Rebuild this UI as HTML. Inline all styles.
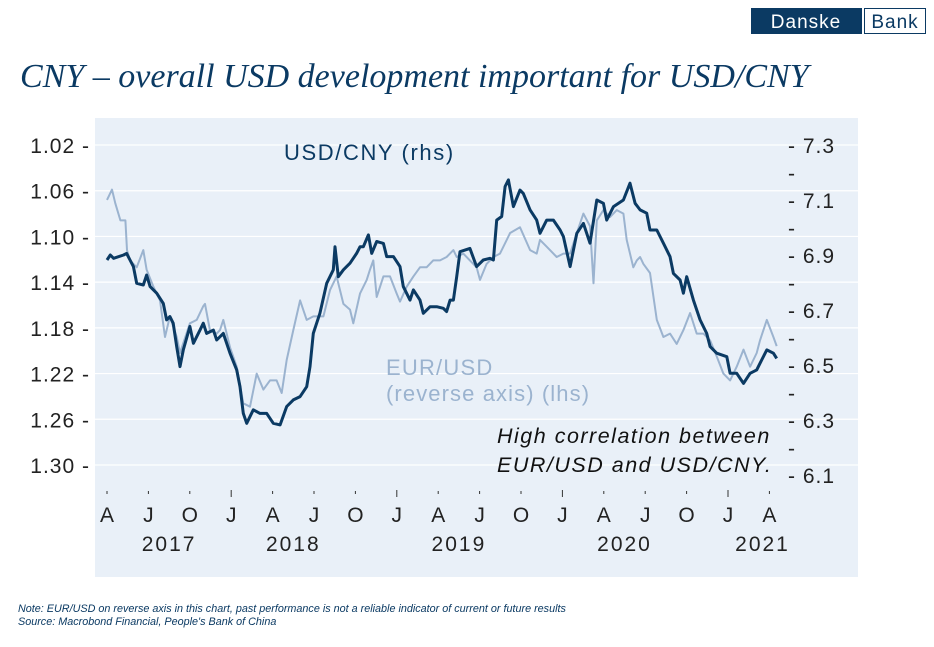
<!DOCTYPE html>
<html><head><meta charset="utf-8"><style>
body{margin:0;width:934px;height:642px;background:#fff;overflow:hidden;font-family:"Liberation Sans",sans-serif}
</style></head><body>
<svg width="934" height="642" xmlns="http://www.w3.org/2000/svg">
<g>
<rect x="751" y="8" width="111" height="26" fill="#0b3a63"/>
<text x="806" y="28" font-size="19" fill="#fff" text-anchor="middle" letter-spacing="1" font-family="Liberation Sans">Danske</text>
<rect x="864.5" y="8.5" width="61" height="25" fill="#fff" stroke="#0b3a63"/>
<text x="895" y="28" font-size="19" fill="#0b3a63" text-anchor="middle" letter-spacing="1" font-family="Liberation Sans">Bank</text>
</g>
<text x="20" y="87" font-family="Liberation Serif" font-style="italic" font-size="34" fill="#0b3a63">CNY – overall USD development important for USD/CNY</text>
<rect x="95" y="118" width="763" height="459" fill="#e9f0f8"/>
<g id="grid"></g><g id="axes"></g><g id="series"></g>
<text x="284" y="160" font-size="22" letter-spacing="1.6" fill="#0b3a63">USD/CNY (rhs)</text>
<text x="386" y="375" font-size="22" letter-spacing="1.2" fill="#9bb3cf">EUR/USD</text>
<text x="386" y="401" font-size="22" letter-spacing="1.1" fill="#9bb3cf">(reverse axis) (lhs)</text>
<text x="497" y="443" font-size="21.5" letter-spacing="1.5" font-style="italic" fill="#111">High correlation between</text>
<text x="497" y="472" font-size="21.5" letter-spacing="1.5" font-style="italic" fill="#111">EUR/USD and USD/CNY.</text>
<text x="18" y="612" font-size="10.8" font-style="italic" fill="#0b3a63">Note: EUR/USD on reverse axis in this chart, past performance is not a reliable indicator of current or future results</text>
<text x="18" y="625" font-size="10.8" font-style="italic" fill="#0b3a63">Source: Macrobond Financial, People's Bank of China</text>
</svg>
<script>
const leftTicks=["1.02","1.06","1.10","1.14","1.18","1.22","1.26","1.30"];
const rightTicks=["7.3","7.1","6.9","6.7","6.5","6.3","6.1"];
const quarterLabels=["A","J","O","J","A","J","O","J","A","J","O","J","A","J","O","J","A"];
const yearLabels=["2017","2018","2019","2020","2021"];
const yearMonths=[4.5,13.5,25.5,37.5,47.5];
const cnyMonths=[0,0.24,0.48,1.2,1.42,1.67,1.91,2.15,2.63,2.87,3.12,3.6,4.08,4.32,4.56,4.8,5.05,5.29,5.53,6.01,6.26,6.74,6.98,7.22,7.71,7.95,8.43,8.91,9.4,9.64,9.88,10.12,10.6,11.09,11.57,12.05,12.54,13.02,13.5,13.99,14.47,14.71,14.95,15.43,15.92,16.4,16.52,16.76,17.13,17.61,18.09,18.33,18.57,18.94,19.18,19.54,20.03,20.27,20.75,21.23,21.47,21.96,22.2,22.68,22.92,23.41,23.89,24.37,24.61,24.86,25.1,25.34,25.58,26.3,26.78,27.27,27.75,28.0,28.24,28.6,28.85,29.09,29.45,29.93,30.17,30.66,31.14,31.38,31.86,32.35,32.83,33.07,33.56,34.04,34.52,35.0,35.49,35.97,36.21,36.7,37.42,37.9,38.27,38.63,39.11,39.35,39.84,40.32,40.8,41.04,41.53,41.77,42.01,42.49,42.98,43.46,43.7,44.18,44.91,45.15,45.63,46.12,46.6,47.08,47.32,47.81,48.29,48.53];
const cnyValues=[6.882,6.900,6.888,6.900,6.906,6.882,6.858,6.797,6.791,6.827,6.785,6.761,6.724,6.664,6.676,6.652,6.567,6.494,6.555,6.640,6.579,6.627,6.652,6.615,6.627,6.591,6.615,6.543,6.482,6.421,6.324,6.288,6.337,6.324,6.324,6.288,6.282,6.349,6.373,6.385,6.421,6.494,6.615,6.688,6.797,6.846,6.930,6.821,6.846,6.870,6.906,6.930,6.930,6.973,6.906,6.949,6.942,6.894,6.894,6.858,6.785,6.736,6.773,6.736,6.688,6.712,6.712,6.706,6.694,6.736,6.736,6.821,6.912,6.924,6.858,6.882,6.888,6.882,7.027,7.040,7.149,7.173,7.076,7.136,7.124,7.064,7.027,6.979,7.027,7.027,6.991,6.967,6.858,6.979,7.015,6.943,7.100,7.088,7.027,7.076,7.100,7.161,7.088,7.064,7.052,6.991,6.991,6.943,6.894,6.833,6.809,6.761,6.821,6.736,6.664,6.615,6.567,6.543,6.530,6.470,6.470,6.433,6.470,6.482,6.506,6.555,6.543,6.524];
const eurMonths=[0,0.36,0.6,0.97,1.33,1.45,1.67,2.15,2.63,2.87,3.36,3.84,4.2,4.56,5.05,5.29,6.01,6.5,6.98,7.1,7.46,7.95,8.19,8.43,8.91,9.4,9.88,10.36,10.85,11.33,11.81,12.29,12.66,13.02,13.5,13.99,14.47,14.95,15.68,16.16,16.64,17.13,17.61,17.85,18.33,18.82,19.06,19.3,19.54,20.03,20.51,20.99,21.23,21.72,22.2,22.68,23.16,23.64,24.13,24.61,25.1,25.34,25.82,26.3,26.78,27.03,27.51,28.0,28.48,29.21,29.93,30.66,31.14,31.38,31.86,32.59,33.07,33.56,34.04,34.52,35.0,35.25,35.49,35.97,36.45,36.94,37.42,37.66,38.14,38.39,38.63,38.87,39.35,39.84,40.32,40.8,41.28,41.77,42.25,42.73,43.22,43.7,44.18,44.67,45.15,45.63,46.12,46.6,47.08,47.32,47.81,48.29,48.53];
const eurValues=[1.068,1.059,1.071,1.086,1.086,1.112,1.121,1.127,1.112,1.129,1.144,1.156,1.188,1.170,1.188,1.202,1.176,1.173,1.161,1.159,1.182,1.185,1.182,1.173,1.197,1.214,1.246,1.249,1.220,1.234,1.226,1.226,1.237,1.208,1.182,1.156,1.173,1.170,1.170,1.147,1.135,1.159,1.164,1.176,1.150,1.138,1.129,1.121,1.153,1.135,1.135,1.150,1.157,1.144,1.135,1.127,1.127,1.121,1.121,1.118,1.112,1.118,1.115,1.121,1.127,1.138,1.124,1.118,1.115,1.097,1.092,1.112,1.115,1.103,1.109,1.118,1.115,1.115,1.097,1.080,1.091,1.141,1.086,1.077,1.083,1.077,1.080,1.103,1.127,1.121,1.118,1.124,1.132,1.173,1.188,1.185,1.194,1.182,1.167,1.185,1.185,1.191,1.205,1.220,1.226,1.214,1.199,1.214,1.202,1.191,1.173,1.188,1.196];

const NS="http://www.w3.org/2000/svg";
const xS=m=>107+m*13.8;
const yL=v=>145+(v-1.02)*(320/0.28);
const yR=v=>145+(7.3-v)*(275/1.0);
function mk(tag,attrs,parent,txt){const e=document.createElementNS(NS,tag);for(const k in attrs)e.setAttribute(k,attrs[k]);if(txt!==undefined)e.textContent=txt;document.getElementById(parent).appendChild(e);return e;}
leftTicks.forEach(t=>{const y=yL(+t);
 let g=mk('line',{x1:95,x2:858,y1:y,y2:y,stroke:'#fff','stroke-width':1.2},'grid');
 
 
 let l=mk('text',{x:90,y:y+8,'font-size':21,fill:'#222','text-anchor':'end','letter-spacing':1},'axes',t+' -');
 
 
});
rightTicks.forEach((t,i)=>{const y=yR(+t);
 let l=mk('text',{x:788,y:y+8,'font-size':21,fill:'#222','letter-spacing':1},'axes','- '+t);
 
 
 if(i<rightTicks.length-1){let m=mk('text',{x:788,y:yR(+t-0.1)+8,'font-size':21,fill:'#222'},'axes','-');
 
 }
});
quarterLabels.forEach((q,i)=>{const x=xS(i*3);const major=q==='J'&&(i%4===3);
 let t=mk('line',{x1:x,x2:x,y1:major?490:491,y2:major?497:494,stroke:'#333','stroke-width':1},'axes');
 
 
 let l=mk('text',{x:x,y:522,'font-size':21,fill:'#222','text-anchor':'middle'},'axes',q);
 
 
});
yearLabels.forEach((y,i)=>{
 let l=mk('text',{x:xS(yearMonths[i]),y:551,'font-size':21,fill:'#222','text-anchor':'middle','letter-spacing':2},'axes',y);
 
 
});
function line(ms,vs,ys,col,w,name){const d=ms.map((m,i)=>(i?'L':'M')+xS(m).toFixed(1)+','+ys(vs[i]).toFixed(1)).join('');
 const p=mk('path',{d:d,fill:'none',stroke:col,'stroke-width':w,'stroke-linejoin':'round'},'series');
 
 }
line(eurMonths,eurValues,yL,'#9bb3cf',2,'eurusd-line');
line(cnyMonths,cnyValues,yR,'#0b3a63',3,'usdcny-line');
</script>
</body></html>
